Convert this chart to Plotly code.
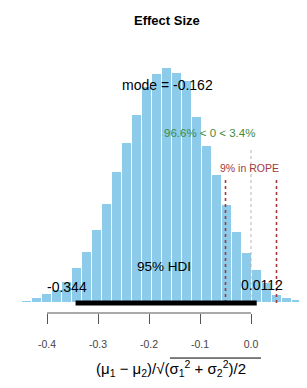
import plotly.graph_objects as go

# ---- data ----
bin_centers = [-0.478, -0.459, -0.439, -0.420, -0.400, -0.380, -0.361, -0.341, -0.322, -0.302,
               -0.282, -0.263, -0.243, -0.224, -0.204, -0.184, -0.165, -0.145, -0.126, -0.106,
               -0.086, -0.067, -0.047, -0.028, -0.008, 0.012, 0.031, 0.051, 0.071, 0.090, 0.110]
bin_heights = [0.5, 1, 2, 5, 9, 13, 21, 35, 51, 73,
               99, 131, 160, 188, 216, 229, 235, 230, 222, 186,
               157, 128, 98, 71, 50, 33, 20, 8, 5, 3, 1.5]
bin_width = 0.0196
mode_value = -0.162
hdi = [-0.344, 0.0112]
rope = [-0.05, 0.05]
comp_value = 0.0
pct_below, pct_above = 96.6, 3.4
pct_rope = 9
tick_vals = [-0.4, -0.3, -0.2, -0.1, 0.0]
tick_text = ["-0.4", "-0.3", "-0.2", "-0.1", "0.0"]

FONT = "Liberation Sans, Arial, sans-serif"
BAR = "#8ccbea"
GREEN = "#3f8a3f"
RED = "#a33a3a"

fig = go.Figure()
fig.add_trace(go.Bar(x=bin_centers, y=bin_heights, width=[bin_width] * len(bin_centers),
                     marker=dict(color=BAR, line=dict(color="white", width=1)),
                     hoverinfo="skip", showlegend=False))

# ROPE and comparison lines
for r in rope:
    fig.add_trace(go.Scatter(x=[r, r], y=[0, 125], mode="lines",
                             line=dict(color=RED, width=1.6, dash="dot"),
                             hoverinfo="skip", showlegend=False))
fig.add_trace(go.Scatter(x=[comp_value, comp_value], y=[0, 155], mode="lines",
                         line=dict(color="#b5b5b5", width=1, dash="dot"),
                         hoverinfo="skip", showlegend=False))
# HDI bar
fig.add_trace(go.Scatter(x=hdi, y=[0, 0], mode="lines", line=dict(color="black", width=5),
                         hoverinfo="skip", showlegend=False))

def txt(x, y, text, size, color="black", xref="x", yref="y"):
    return dict(x=x, y=y, xref=xref, yref=yref, text=text, showarrow=False,
                xanchor="center", yanchor="middle",
                font=dict(size=size, color=color, family=FONT))

ann = [
    txt(-0.1647, 218, f"mode = {mode_value}", 14),
    txt(-0.082, 170, f"{pct_below}% &lt; {comp_value:g} &lt; {pct_above}%", 11.5, GREEN),
    txt(-0.002, 135, f"{pct_rope}% in ROPE", 10.5, RED),
    txt(-0.170, 37, "95% HDI", 13.5),
    txt(-0.361, 16, f"{hdi[0]}", 14),
    txt(0.0216, 18, f"{hdi[1]}", 14),
    txt(-0.1647, 1.073, "<b>Effect Size</b>", 13, yref="paper"),
    txt(-0.157, -0.205,
        "(μ<sub>1</sub> − μ<sub>2</sub>)/√(σ<sub>1</sub><sup>2</sup> + σ<sub>2</sub><sup>2</sup>)/2",
        15, yref="paper"),
]

fig.update_layout(
    width=299, height=380,
    margin=dict(l=0, r=0, t=32, b=75),
    paper_bgcolor="white", plot_bgcolor="white",
    bargap=0,
    annotations=ann,
    shapes=[
        dict(type="line", xref="x", yref="paper", x0=tick_vals[0], x1=tick_vals[-1],
             y0=0, y1=0, line=dict(color="#555555", width=1)),
        # radical overline of the axis label
        dict(type="line", xref="x", yref="paper", x0=-0.159, x1=0.0196,
             y0=-0.165, y1=-0.165, line=dict(color="black", width=1)),
    ],
    xaxis=dict(range=[-0.4765, 0.1098], showgrid=False, zeroline=False, showline=False,
               tickvals=tick_vals, ticktext=tick_text, ticks="outside", ticklen=10,
               tickwidth=1, tickcolor="#555555", ticklabelstandoff=11,
               tickfont=dict(size=10.5, color="#444444", family=FONT)),
    yaxis=dict(visible=False, range=[-10, 263]),
    font=dict(family=FONT),
)

fig.write_html("out.html")
